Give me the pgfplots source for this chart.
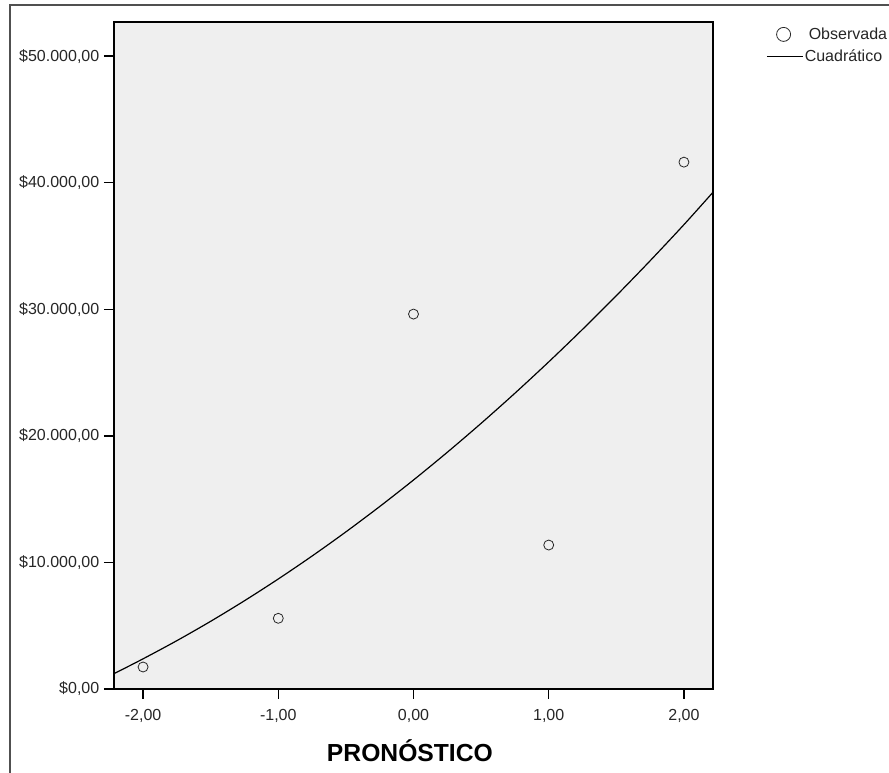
\documentclass[border=0pt]{standalone}
\usepackage{pgfplots}
\pgfplotsset{compat=1.18}
\usepackage{fontspec}
\setmainfont{Liberation Sans}
\definecolor{panel}{RGB}{239,239,239}
\definecolor{framegray}{RGB}{80,80,80}

\begin{document}
\begin{tikzpicture}
\begin{axis}[
    scale only axis,
    width=449.25pt, height=500.25pt,
    xmin=-2.215, xmax=2.215,
    ymin=0, ymax=52700,
    scaled y ticks=false,
    axis background/.style={fill=panel},
    axis line style={black, line width=0.8pt},
    tick align=outside,
    major tick length=7.5pt,
    tick style={black, line width=1pt},
    xtick={-2,-1,0,1,2},
    xticklabels={{-2,00},{-1,00},{0,00},{1,00},{2,00}},
    ytick={0,10000,20000,30000,40000,50000},
    yticklabels={{\$0,00},{\$10.000,00},{\$20.000,00},{\$30.000,00},{\$40.000,00},{\$50.000,00}},
    xtick pos=bottom, ytick pos=left,
    tick label style={font=\fontsize{12}{13}\selectfont, text=black!85},
    xticklabel style={yshift=-4pt},
    xlabel={PRONÓSTICO},
    xlabel style={font=\fontsize{18.5}{20}\selectfont\bfseries,
        at={(axis description cs:0.494,0)}, anchor=center, yshift=-46.5pt},
    legend style={at={(axis description cs:1.082,0.998)}, anchor=north west,
        draw=none, fill=none, row sep=4.5pt,
        font=\fontsize{12}{13}\selectfont, text=black!85,
        nodes={inner sep=1pt}},
    legend cell align=left,
]
% observed values
\addplot[only marks, mark=o, mark size=3.75pt, mark options={black!85, line width=0.6pt},
    legend image code/.code={\path[draw=none] (0pt,0pt) -- (27pt,0pt);
        \draw[black!85, line width=0.6pt] (12.5pt,0pt) circle (5.25pt);}]
coordinates {
    (-2, 1738) (-1, 5585) (0, 29621) (1, 11374) (2, 41627)
};
\addlegendentry{\hspace{3pt}Observada}

% quadratic fit
\addplot[black, line width=0.9pt, smooth,
    legend image code/.code={\draw[black, line width=0.8pt] (0pt,0pt) -- (27pt,0pt);}]
coordinates {
    (-2.215, 1210) (-2.00, 2384) (-1.75, 3819) (-1.50, 5349) (-1.25, 6974)
    (-1.00, 8693) (-0.75, 10506) (-0.50, 12414) (-0.25, 14416) (0.00, 16513)
    (0.25, 18704) (0.50, 20990) (0.75, 23370) (1.00, 25845) (1.25, 28414)
    (1.50, 31077) (1.75, 33835) (2.00, 36688) (2.215, 39250)
};
\addlegendentry{Cuadrático}
\end{axis}
\draw[framegray, line width=1.2pt] (-78pt,-63pt) -- (-78pt,513pt) -- (581.25pt,513pt);
\pgfresetboundingbox
\useasboundingbox (-85.5pt,-63pt) rectangle (581.25pt,516.75pt);
\end{tikzpicture}
\end{document}
